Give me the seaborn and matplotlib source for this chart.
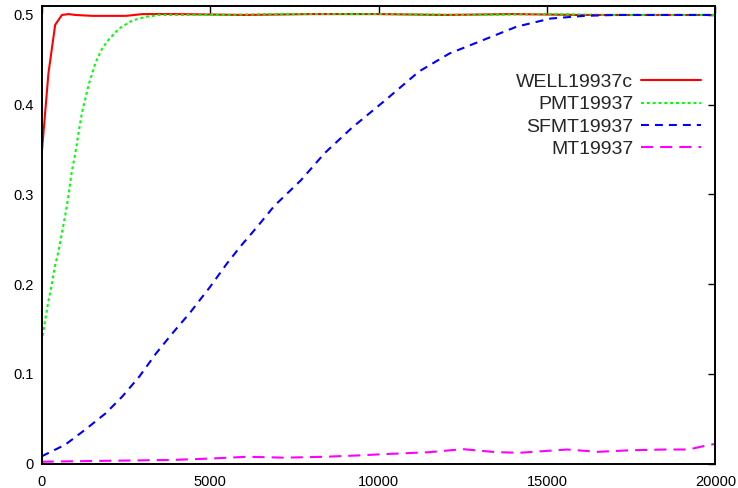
import matplotlib
matplotlib.use("Agg")
import matplotlib.pyplot as plt
import seaborn as sns

# values
well_x = [0, 200, 400, 600, 800, 1000, 1500, 2000, 2500, 3000, 4000, 6000, 8000,
          10000, 12000, 14000, 16000, 18000, 20000]
well_y = [0.345, 0.435, 0.489, 0.500, 0.501, 0.500, 0.499, 0.499, 0.499, 0.501, 0.501,
          0.500, 0.501, 0.501, 0.500, 0.501, 0.500, 0.500, 0.500]

pmt_x = [0, 100, 200, 300, 400, 500, 600, 700, 800, 900, 1000, 1100, 1200, 1400, 1600,
         1800, 2000, 2300, 2700, 3100, 3500, 5000, 7000, 10000, 13000, 15000, 17000, 20000]
pmt_y = [0.136, 0.159, 0.181, 0.200, 0.221, 0.237, 0.257, 0.277, 0.300, 0.327, 0.346,
         0.370, 0.392, 0.423, 0.447, 0.463, 0.473, 0.485, 0.494, 0.498, 0.500, 0.500,
         0.501, 0.501, 0.500, 0.501, 0.500, 0.500]

sfmt_x = [0, 700, 1300, 1900, 2400, 2900, 3400, 3900, 4400, 5000, 5500, 5900, 6400, 6900,
          7700, 8400, 9200, 10200, 11200, 12100, 13100, 14100, 15100, 16100, 17000, 18000,
          19000, 20000]
sfmt_y = [0.008, 0.021, 0.038, 0.056, 0.075, 0.097, 0.123, 0.146, 0.168, 0.197, 0.223,
          0.242, 0.264, 0.287, 0.316, 0.346, 0.374, 0.405, 0.437, 0.457, 0.472, 0.487,
          0.496, 0.499, 0.500, 0.500, 0.500, 0.500]

mt_x = [0, 1900, 3900, 5000, 6100, 7200, 8400, 9400, 10200, 11500, 12500, 13500, 14200,
        15600, 16500, 17500, 18500, 19200, 19600, 20000]
mt_y = [0.002, 0.003, 0.004, 0.0055, 0.0075, 0.0065, 0.0075, 0.009, 0.0105, 0.0126,
        0.016, 0.0126, 0.012, 0.0156, 0.013, 0.0148, 0.0156, 0.0156, 0.019, 0.022]

x_ticks = [0, 5000, 10000, 15000, 20000]
y_ticks = [0, 0.1, 0.2, 0.3, 0.4, 0.5]
y_tick_labels = ["0", "0.1", "0.2", "0.3", "0.4", "0.5"]

series = [
    ("WELL19937c", well_x, well_y, "#ff0000", None),
    ("PMT19937", pmt_x, pmt_y, "#00ff00", (1.4, 1.4)),
    ("SFMT19937", sfmt_x, sfmt_y, "#0000ff", (3.8, 2.9)),
    ("MT19937", mt_x, mt_y, "#ff00ff", (5.8, 3.4)),
]

sns.set_style("white")
plt.rcParams["font.family"] = ["Liberation Sans", "DejaVu Sans"]

fig = plt.figure(figsize=(7.38, 4.88), dpi=100)
ax = fig.add_axes([0.0565, 0.0502, 0.913, 0.9375])

for name, xs, ys, col, dash in series:
    sns.lineplot(x=xs, y=ys, ax=ax, color=col, linewidth=1.5, label=name)
    if dash is not None:
        ax.lines[-1].set_dashes(dash)

ax.set_xlim(0, 20000)
ax.set_ylim(0, 0.51)
ax.set_xticks(x_ticks)
ax.set_xticklabels([str(t) for t in x_ticks])
ax.set_yticks(y_ticks)
ax.set_yticklabels(y_tick_labels)
ax.tick_params(direction="in", length=5, width=1, top=True, right=True,
               labelsize=10.5, colors="black", pad=6)
ax.tick_params(axis="x", pad=8)
for sp in ax.spines.values():
    sp.set_color("black")
    sp.set_linewidth(1.4)

# legend: text on the left, sample line on the right, as in gnuplot
ax.legend(loc="upper right", bbox_to_anchor=(0.979, 0.853), frameon=False,
          markerfirst=False, fontsize=14, handlelength=3.1, handletextpad=0.4,
          labelspacing=0.25, borderaxespad=0, borderpad=0)

fig.savefig("out.png", dpi=100)
